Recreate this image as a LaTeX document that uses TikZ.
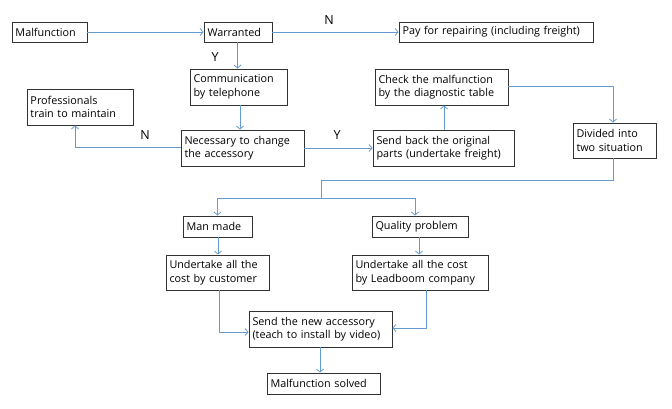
\documentclass[tikz,border=0pt]{standalone}
\usepackage{fontspec}
\setmainfont{Open Sans}
\usetikzlibrary{arrows.meta}
\definecolor{lineblue}{RGB}{100,155,210}
\definecolor{boxline}{RGB}{50,50,50}
\tikzset{
  box/.style={draw=boxline, line width=0.9pt, rectangle, inner xsep=3.5pt, inner ysep=1pt,
    align=left, font=\fontsize{10.8}{13.5}\selectfont, anchor=center},
  conn/.style={draw=lineblue, line width=0.8pt, -{Straight Barb[length=3pt,width=7pt]}},
  plain/.style={draw=lineblue, line width=0.8pt},
  yn/.style={font=\fontsize{12.5}{13}\selectfont, inner sep=0pt}
}
\newcommand{\bx}[6]{\node[box, minimum width=#4pt, minimum height=#5pt, text width=#4pt-7pt] (#1) at (#2,#3) {#6};}
\begin{document}
\begin{tikzpicture}[x=1pt,y=-1pt]
\useasboundingbox (0,0) rectangle (672,408);
\bx{mal}{49.5}{32}{75}{20}{Malfunction}
\bx{war}{238}{32}{68}{20}{Warranted}
\bx{pay}{496}{32}{194}{20}{Pay for repairing (including freight)}
\bx{com}{238.5}{87}{97}{36}{Communication\\by telephone}
\bx{pro}{80}{107}{106}{36}{Professionals\\train to maintain}
\bx{nec}{242.5}{148}{123}{36}{Necessary to change\\the accessory}
\bx{snd}{443.5}{148}{141}{36}{Send back the original\\parts (undertake freight)}
\bx{chk}{441.5}{87}{133}{36}{Check the malfunction\\by the diagnostic table}
\bx{div}{614.5}{140.5}{83}{35}{Divided into\\two situation}
\bx{man}{217.5}{226.5}{69}{21}{Man made}
\bx{qua}{420}{226.5}{96}{21}{Quality problem}
\bx{cus}{217.5}{272.5}{103}{35}{Undertake all the\\cost by customer}
\bx{lea}{420}{272.5}{136}{35}{Undertake all the cost\\by Leadboom company}
\bx{new}{320.5}{329}{143}{36}{Send the new accessory\\(teach to install by video)}
\bx{sol}{323.5}{383.5}{113}{21}{Malfunction solved}

\node[yn] (lN1) at (329,20) {N};
\node[yn] (lY1) at (215,57) {Y};
\node[yn] (lN2) at (145,135) {N};
\node[yn] (lY2) at (337,135) {Y};

\coordinate (split) at (321,198);
\coordinate (mid) at (613,180);

\draw[conn] (mal.east) -- (war.west);
\draw[conn] (war.east) -- (pay.west);
\draw[conn] ([xshift=-0.5pt]war.south) -- ([xshift=-0.5pt]war.south |- com.north);
\draw[conn] ([xshift=1.5pt]com.south) -- ([xshift=1.5pt]com.south |- nec.north);
\draw[conn] ([yshift=1pt]nec.west) -| ([xshift=-5pt]pro.south);
\draw[conn] (nec.east) -- (nec.east -| snd.west);
\draw[conn] ([xshift=0.5pt]snd.north) -- ([xshift=0.5pt]snd.north |- chk.south);
\draw[conn] ([yshift=1pt]chk.east) -| ([xshift=-1.5pt]div.north);
\draw[plain] ([xshift=-1.5pt]div.south) |- (mid) -| (split);
\draw[conn] (split) -| (man.north);
\draw[conn] (split) -| ([xshift=-5pt]qua.north);
\draw[conn] ([xshift=0.5pt]man.south) -- ([xshift=0.5pt]man.south |- cus.north);
\draw[conn] ([xshift=-1pt]qua.south) -- ([xshift=-1pt]qua.south |- lea.north);
\draw[conn] ([xshift=1.5pt]cus.south) |- ([yshift=-3pt]new.west);
\draw[conn] ([xshift=6pt]lea.south) |- ([yshift=1pt]new.east);
\draw[conn] ([xshift=-0.5pt]new.south) -- ([xshift=-0.5pt]new.south |- sol.north);
\end{tikzpicture}
\end{document}
